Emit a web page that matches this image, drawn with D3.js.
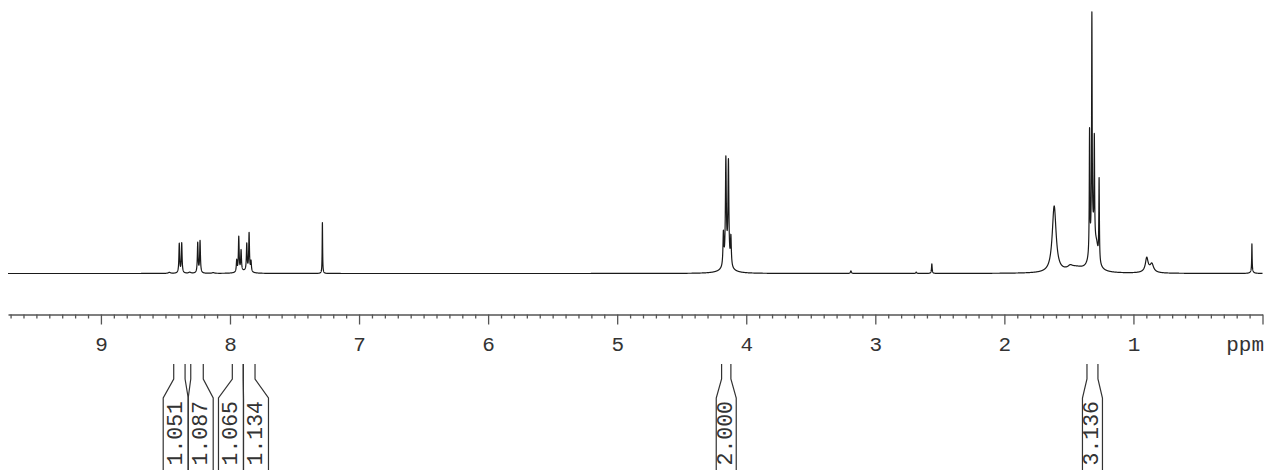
<!DOCTYPE html>
<html>
<head>
<meta charset="utf-8">
<script src="https://cdn.jsdelivr.net/npm/d3@7"></script>
<style>
body { margin: 0; background: #fff; }
</style>
</head>
<body>
<script>
var width = 1266;
var height = 470;

// Peak list: position (ppm), height (% of tallest line), half width (ppm).
var peakPpm = [
  8.470, 8.393, 8.374, 8.312, 8.250, 8.232, 8.130,
  7.948, 7.932, 7.914, 7.870, 7.852, 7.837, 7.890,
  7.284,
  4.177, 4.158, 4.138, 4.119, 4.148, 4.150,
  3.189, 2.683, 2.562,
  1.614, 1.490, 1.450,
  1.340, 1.322, 1.303, 1.266, 1.315, 1.285,
  0.897, 0.857, 0.880,
  0.082, 0.082
];
var peakHeight = [
  0.4, 11.3, 11.5, 0.4, 11.6, 12.3, 0.3,
  4.5, 13.5, 8.0, 10.5, 14.8, 4.0, 0.8,
  19.6,
  12.5, 39, 38, 11, 4.0, 1.5,
  1.0, 0.5, 3.7,
  25.5, 1.0, 2.0,
  47, 85, 38.5, 31.5, 14, 6,
  5.0, 2.8, 1.0,
  10.6, 0.8
];
var peakWidth = [
  0.01, 0.0035, 0.0035, 0.01, 0.0035, 0.0035, 0.01,
  0.0035, 0.0035, 0.0035, 0.0035, 0.0035, 0.0035, 0.04,
  0.002,
  0.004, 0.004, 0.004, 0.004, 0.015, 0.06,
  0.004, 0.004, 0.003,
  0.018, 0.02, 0.08,
  0.0025, 0.0025, 0.0025, 0.0025, 0.022, 0.015,
  0.012, 0.015, 0.04,
  0.002, 0.012
];

// Axis ticks.
var majorTicks = [9, 8, 7, 6, 5, 4, 3, 2, 1, 0];
var majorLabels = ['9', '8', '7', '6', '5', '4', '3', '2', '1', ''];
var unitLabel = 'ppm';

// Integrals: value and region (ppm).
var integralValues = ['1.051', '1.087', '1.065', '1.134', '2.000', '3.136'];
var integralFrom = [8.436, 8.304, 7.982, 7.897, 4.191, 1.360];
var integralTo = [8.348, 8.207, 7.897, 7.806, 4.119, 1.275];

var svg = d3.select('body')
  .append('svg')
  .attr('width', width)
  .attr('height', height);

var x = d3.scaleLinear().domain([9.72, 0]).range([8, 1262.5]);
var y = d3.scaleLinear().domain([0, 100]).range([273.5, 14]);

// Spectrum as a sum of Lorentzian lines.
var points = d3.range(9.72, -0.0002, -0.0004).map(function(p) {
  var s = 0;
  for (var i = 0; i < peakPpm.length; i++) {
    var d = p - peakPpm[i], w = peakWidth[i];
    s += peakHeight[i] * w * w / (w * w + d * d);
  }
  return [p, s];
});

var line = d3.line()
  .x(function(d) { return x(d[0]); })
  .y(function(d) { return y(d[1]); });

svg.append('path')
  .datum(points)
  .attr('d', line)
  .attr('fill', 'none')
  .attr('stroke', '#1a1a1a')
  .attr('stroke-width', 1.2)
  .attr('stroke-linejoin', 'round');

// Axis.
var axisY = 314.5;
var minorTicks = d3.range(1, 98).map(function(i) { return i / 10; })
  .filter(function(d) { return Math.abs(d - Math.round(d)) > 0.01; });

var gMinor = svg.append('g')
  .attr('transform', 'translate(0,' + axisY + ')')
  .call(d3.axisBottom(x).tickValues(minorTicks).tickSize(4).tickSizeOuter(0).tickFormat(''));

var gMajor = svg.append('g')
  .attr('transform', 'translate(0,' + axisY + ')')
  .call(d3.axisBottom(x).tickValues(majorTicks).tickSize(10).tickSizeOuter(0)
    .tickFormat(function(d, i) { return majorLabels[i]; }));
gMajor.select('.domain').remove();

svg.selectAll('.domain').attr('stroke', '#555').attr('stroke-width', 1.5);
svg.selectAll('.tick line').attr('stroke', '#555').attr('stroke-width', 1.3);
gMajor.selectAll('.tick text')
  .attr('y', 36.5)
  .attr('dy', 0)
  .attr('fill', '#333')
  .attr('font-family', '"Liberation Mono", monospace')
  .attr('font-size', 21);

svg.append('text')
  .attr('x', 1264)
  .attr('y', axisY + 36.5)
  .attr('text-anchor', 'end')
  .attr('fill', '#333')
  .attr('font-family', '"Liberation Mono", monospace')
  .attr('font-size', 21)
  .text(unitLabel);

// Integral labels, pushed apart where they collide.
var labels = integralValues.map(function(v, i) {
  var x1 = x(integralFrom[i]), x2 = x(integralTo[i]);
  return {text: v, x1: x1, x2: x2, pos: (x1 + x2) / 2, packed: false};
});
var spacing = 25;
for (var k = 0; k < 50; k++) {
  for (var i = 1; i < labels.length; i++) {
    var gap = labels[i].pos - labels[i - 1].pos;
    if (gap < spacing - 0.01) {
      var shift = (spacing - gap) / 2;
      labels[i - 1].pos -= shift;
      labels[i].pos += shift;
      labels[i - 1].packed = labels[i].packed = true;
    }
  }
}

var gInt = svg.append('g');
labels.forEach(function(l) {
  var hw = l.packed ? 12.5 : 10;
  var path = d3.path();
  path.moveTo(l.x1, 364); path.lineTo(l.x1, 379);
  path.lineTo(l.pos - hw, 398); path.lineTo(l.pos - hw, 472);
  path.moveTo(l.x2, 364); path.lineTo(l.x2, 379);
  path.lineTo(l.pos + hw, 398); path.lineTo(l.pos + hw, 472);
  gInt.append('path')
    .attr('d', path.toString())
    .attr('fill', 'none')
    .attr('stroke', '#333')
    .attr('stroke-width', 1.2);
  gInt.append('text')
    .attr('transform', 'translate(' + l.pos + ',401) rotate(-90)')
    .attr('text-anchor', 'end')
    .attr('dominant-baseline', 'central')
    .attr('fill', '#333')
    .attr('font-family', '"Liberation Mono", monospace')
    .attr('font-size', 21.5)
    .text(l.text);
});
</script>
</body>
</html>
